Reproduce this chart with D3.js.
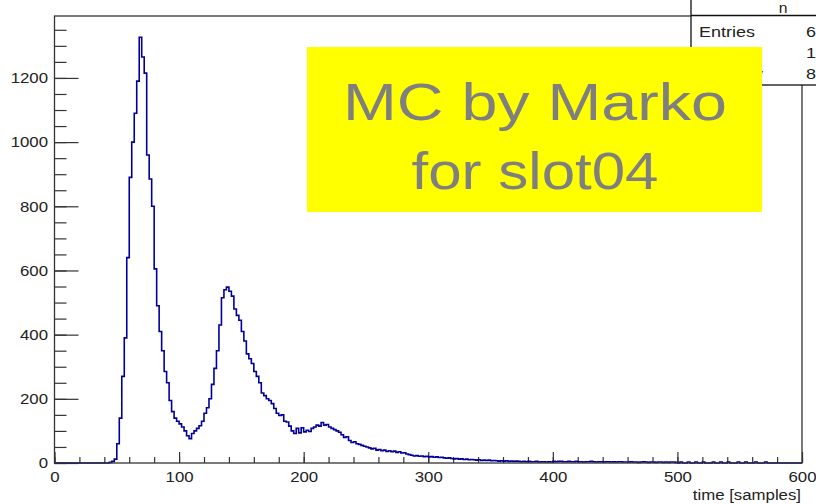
<!DOCTYPE html>
<html>
<head>
<meta charset="utf-8">
<script src="https://cdn.jsdelivr.net/npm/d3@7"></script>
<style>
  body { margin: 0; background: #fff; }
  svg { display: block; }
  text { font-family: "Liberation Sans", Arial, Helvetica, sans-serif; fill: #222; }
</style>
</head>
<body>
<script>
// histogram: time [samples], bin width 2, first bin starts at 44 (all earlier bins are empty)
var histStart = 44,
    binWidth = 2;
var counts = [
  2, 5, 12, 60, 140, 270, 390, 640, 890, 1000,
  1090, 1190, 1327, 1265, 1215, 960, 885, 800, 605, 490,
  410, 350, 285, 250, 195, 160, 140, 130, 122, 112,
  100, 85, 76, 92, 100, 108, 116, 130, 155, 172,
  200, 245, 295, 350, 430, 515, 540, 548, 535, 520,
  480, 460, 445, 410, 380, 340, 325, 310, 285, 270,
  250, 218, 210, 200, 195, 185, 170, 155, 148, 150,
  130, 128, 115, 100, 92, 108, 94, 110, 97, 102,
  98, 108, 112, 118, 115, 126, 118, 120, 112, 108,
  104, 100, 96, 88, 80, 82, 70, 64, 66, 60,
  58, 55, 52, 50, 47, 44, 46, 40, 42, 38,
  40, 36, 38, 35, 37, 33, 35, 31, 32, 28,
  26, 24, 22, 23, 21, 22, 20, 21, 19, 20,
  18, 19, 17, 18, 16, 15, 16, 14, 13, 14,
  12, 13, 11, 12, 10, 11, 10, 9, 10, 8,
  9, 8, 9, 7, 8, 7, 6, 7, 6, 7,
  5, 6, 5, 6, 5, 4, 5, 4,
  5, 4, 4, 5, 3, 4, 4, 3, 4, 3,
  5, 4, 5, 5, 4, 4, 5, 4, 4, 5, 4, 4, 3, 4, 4, 5, 4, 3, 4, 4, 3, 4, 4, 3, 4, 3, 4, 4, 3, 3,
  3, 4, 3, 3, 2, 3, 4, 3, 2, 3, 3, 2, 3, 3, 2, 3, 2, 3, 3, 2,
  0, 3, 0, 0, 3, 0, 0, 3, 0, 0, 3, 0, 0, 0, 3, 0, 0, 3, 0, 0, 3, 0, 0, 0, 3,
  0, 0, 3, 0, 0, 0, 3, 0, 0, 0, 3, 0, 0, 0, 0, 0, 0, 0, 0, 0, 0, 0, 0, 0, 0
];

var xMajor = [0, 100, 200, 300, 400, 500, 600];
var yMajor = [0, 200, 400, 600, 800, 1000, 1200];
var xTitle = "time [samples]";
var statsTitle = "n";
var statsNames = ["Entries", "Mean", "Std Dev"];
var statsValues = ["6", "1", "8"];
var noteLines = ["MC by Marko", "for slot04"];

var width = 816, height = 504,
    frame = {left: 54.5, right: 802, top: 16, bottom: 463},
    stretch = 1.12;

var x = d3.scaleLinear().domain([0, 600]).range([frame.left, frame.right]);
var y = d3.scaleLinear().domain([0, 1393]).range([frame.bottom, frame.top]);

var svg = d3.select("body").append("svg")
    .attr("width", width)
    .attr("height", height);

// minor ticks
svg.append("g")
    .attr("class", "xminor")
    .attr("transform", "translate(0," + frame.bottom + ")")
    .call(d3.axisBottom(x).tickValues(d3.range(0, 601, 20)).tickSize(-6).tickFormat(""));
svg.append("g")
    .attr("class", "yminor")
    .attr("transform", "translate(" + frame.left + ",0)")
    .call(d3.axisLeft(y).tickValues(d3.range(0, 1351, 50)).tickSize(-12).tickFormat(""));

// major ticks + labels
svg.append("g")
    .attr("class", "axisx")
    .attr("transform", "translate(0," + frame.bottom + ")")
    .call(d3.axisBottom(x).tickValues(xMajor).tickSize(-11).tickPadding(8).tickFormat(d3.format("d")));
svg.append("g")
    .attr("class", "axisy")
    .attr("transform", "translate(" + frame.left + ",0)")
    .call(d3.axisLeft(y).tickValues(yMajor).tickSize(-24).tickPadding(7).tickFormat(d3.format("d")));

svg.selectAll(".domain").remove();
svg.selectAll(".tick line").attr("stroke", "#333").attr("stroke-width", 1.2);
svg.selectAll(".tick text")
    .attr("font-size", 15)
    .attr("fill", "#222")
    .attr("transform", "scale(" + stretch + ",1)");
svg.selectAll(".axisy .tick text").attr("x", -6.5 / stretch);

// histogram outline (step line)
var pts = [[0, 0], [histStart, 0]];
counts.forEach(function(c, i) { pts.push([histStart + i * binWidth, c]); });
pts.push([600, 0]);

svg.append("path")
    .datum(pts)
    .attr("fill", "none")
    .attr("stroke", "#000099")
    .attr("stroke-width", 1.6)
    .attr("d", d3.line()
        .x(function(d) { return x(d[0]); })
        .y(function(d) { return y(d[1]); })
        .curve(d3.curveStepAfter));

// frame
svg.append("rect")
    .attr("x", frame.left)
    .attr("y", frame.top)
    .attr("width", frame.right - frame.left)
    .attr("height", frame.bottom - frame.top)
    .attr("fill", "none")
    .attr("stroke", "#333")
    .attr("stroke-width", 1.3);

// x title
svg.append("text")
    .attr("transform", "translate(801,500) scale(" + stretch + ",1)")
    .attr("text-anchor", "end")
    .attr("font-size", 15)
    .text(xTitle);

// stats box (runs past the right edge of the canvas)
var stats = svg.append("g").attr("class", "stats");
stats.append("rect")
    .attr("x", 691).attr("y", -2)
    .attr("width", 140).attr("height", 87)
    .attr("fill", "#fff")
    .attr("stroke", "#111")
    .attr("stroke-width", 1.3);
stats.append("line")
    .attr("x1", 691).attr("x2", 816)
    .attr("y1", 15.5).attr("y2", 15.5)
    .attr("stroke", "#111").attr("stroke-width", 1.3);
stats.append("text")
    .attr("transform", "translate(783,13) scale(" + stretch + ",1)")
    .attr("text-anchor", "middle")
    .attr("font-size", 14)
    .text(statsTitle);
statsNames.forEach(function(name, i) {
  stats.append("text")
      .attr("transform", "translate(699," + (37 + i * 21) + ") scale(1.2,1)")
      .attr("font-size", 15)
      .text(name);
  stats.append("text")
      .attr("transform", "translate(816," + (37 + i * 21) + ") scale(1.2,1)")
      .attr("text-anchor", "end")
      .attr("font-size", 15)
      .text(statsValues[i]);
});

// yellow note
svg.append("rect")
    .attr("x", 307).attr("y", 47)
    .attr("width", 455).attr("height", 165)
    .attr("fill", "#ffff00");
var noteWidths = [384, 247];
noteLines.forEach(function(t, i) {
  svg.append("text")
      .attr("x", 535)
      .attr("y", 120 + i * 69)
      .attr("text-anchor", "middle")
      .attr("font-family", "'DejaVu Sans', sans-serif")
      .attr("font-weight", 200)
      .attr("font-size", 52)
      .style("fill", "#7f7f7f")
      .attr("textLength", noteWidths[i])
      .attr("lengthAdjust", "spacingAndGlyphs")
      .text(t);
});
</script>
</body>
</html>
